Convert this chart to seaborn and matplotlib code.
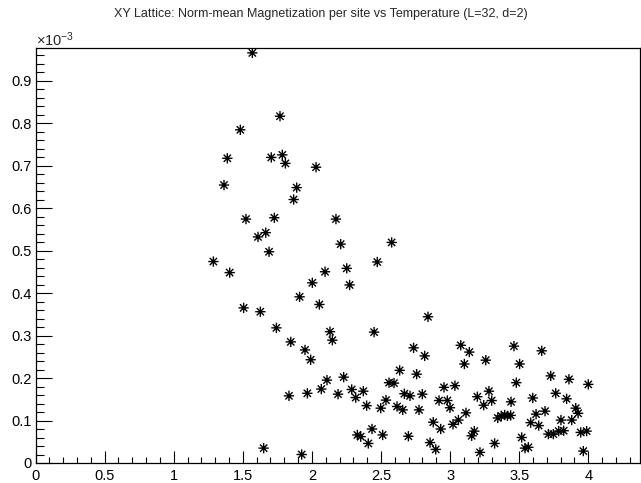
import matplotlib
matplotlib.use("Agg")
import matplotlib.pyplot as plt
from matplotlib.path import Path
from matplotlib.ticker import MultipleLocator, FuncFormatter
import pandas as pd
import seaborn as sns

# Temperature values (x) and norm-mean magnetization per site (y, in units of 1e-3)
temperature = [
    1.569, 1.769, 1.482, 1.388, 1.706, 1.786, 1.808, 2.030, 1.364, 1.890, 1.868, 1.523, 1.728, 2.174,
    1.610, 1.666, 1.690, 1.287, 1.405, 2.208, 2.252, 2.273, 2.095, 2.003, 1.911, 2.054, 1.506, 1.627,
    1.743, 2.131, 2.148, 1.847, 1.950, 1.991, 2.450, 2.473, 2.109, 2.230, 1.834, 1.967, 2.068, 2.189,
    2.288, 2.317, 2.372, 2.396, 2.435, 2.329, 2.353, 2.408, 1.651, 1.926,
    2.577, 2.840, 2.736, 2.816, 3.077, 3.139, 3.103, 3.258, 2.635, 2.758, 2.558, 2.594, 2.956, 3.035,
    2.669, 2.710, 2.799, 2.536, 2.498, 2.616, 2.657, 2.775, 2.920, 2.980, 2.999, 3.197, 3.281, 3.243,
    3.301, 3.115, 3.060, 3.021, 2.878, 2.932, 2.512, 2.698, 2.855, 2.896, 3.175, 3.156, 3.216, 3.322,
    3.345, 3.370, 3.395, 3.415, 3.438,
    3.462, 3.663, 3.503, 3.728, 3.860, 4.000, 3.479, 3.764, 3.598, 3.843, 3.441, 3.909, 3.926, 3.687,
    3.622, 3.802, 3.880, 3.583, 3.641, 3.711, 3.747, 3.786, 3.822, 3.945, 3.988, 3.518, 3.542, 3.566,
    3.964,
]
magnetization_e3 = [
    0.965, 0.816, 0.784, 0.717, 0.719, 0.725, 0.705, 0.696, 0.654, 0.648, 0.620, 0.574, 0.577, 0.574,
    0.532, 0.542, 0.497, 0.474, 0.448, 0.515, 0.458, 0.419, 0.450, 0.424, 0.391, 0.373, 0.365, 0.356,
    0.318, 0.309, 0.289, 0.285, 0.266, 0.243, 0.308, 0.473, 0.195, 0.202, 0.158, 0.164, 0.174, 0.162,
    0.173, 0.154, 0.169, 0.135, 0.080, 0.066, 0.062, 0.046, 0.035, 0.020,
    0.519, 0.344, 0.271, 0.252, 0.277, 0.261, 0.233, 0.242, 0.218, 0.209, 0.189, 0.188, 0.178, 0.182,
    0.163, 0.158, 0.162, 0.148, 0.129, 0.133, 0.125, 0.125, 0.147, 0.147, 0.130, 0.156, 0.169, 0.136,
    0.147, 0.118, 0.101, 0.091, 0.096, 0.080, 0.066, 0.063, 0.048, 0.032, 0.075, 0.064, 0.025, 0.046,
    0.106, 0.111, 0.113, 0.111, 0.112,
    0.275, 0.264, 0.233, 0.205, 0.197, 0.185, 0.189, 0.164, 0.153, 0.151, 0.144, 0.129, 0.117, 0.122,
    0.115, 0.101, 0.101, 0.095, 0.088, 0.068, 0.068, 0.075, 0.076, 0.072, 0.075, 0.060, 0.035, 0.037,
    0.028,
]
title = "XY Lattice: Norm-mean Magnetization per site vs Temperature (L=32, d=2)"

df = pd.DataFrame({"T": temperature, "M": magnetization_e3})

sns.set_theme(style="white")
plt.rcParams['font.family'] = ['Liberation Sans', 'DejaVu Sans']
plt.rcParams['mathtext.fontset'] = 'custom'
plt.rcParams['mathtext.rm'] = 'Liberation Sans'
plt.rcParams['mathtext.it'] = 'Liberation Sans:italic'
plt.rcParams['mathtext.default'] = 'regular'

W, H = 641, 483
fig = plt.figure(figsize=(W / 100, H / 100), dpi=100)
left, right, top, bottom = 35.5, 640, 48, 463
ax = fig.add_axes([left / W, (H - bottom) / H, (right - left) / W, (bottom - top) / H])

d = 0.7071
star = Path([(-1, 0), (1, 0), (0, -1), (0, 1), (-d, -d), (d, d), (-d, d), (d, -d)],
            [Path.MOVETO, Path.LINETO] * 4)

sns.scatterplot(data=df, x="T", y="M", marker=star, s=55, color="black",
                facecolor="none", edgecolor="black", linewidth=1.0, ax=ax, legend=False)

ax.set_xlim(0, 4.374)
ax.set_ylim(0, 0.9765)
ax.set_xlabel("")
ax.set_ylabel("")

ax.xaxis.set_major_locator(MultipleLocator(0.5))
ax.xaxis.set_minor_locator(MultipleLocator(0.1))
ax.yaxis.set_major_locator(MultipleLocator(0.1))
ax.yaxis.set_minor_locator(MultipleLocator(0.02))
fmt = FuncFormatter(lambda v, p: "%g" % round(v, 6))
ax.xaxis.set_major_formatter(fmt)
ax.yaxis.set_major_formatter(fmt)

ax.tick_params(axis='x', which='major', direction='in', length=8.6, width=0.8,
               labelsize=10.5, pad=4, bottom=True, top=False, colors='black')
ax.tick_params(axis='x', which='minor', direction='in', length=4.6, width=0.8,
               bottom=True, top=False, colors='black')
ax.tick_params(axis='y', which='major', direction='in', length=11.5, width=0.8,
               labelsize=10.5, pad=3, left=True, right=False, colors='black')
ax.tick_params(axis='y', which='minor', direction='in', length=5.8, width=0.8,
               left=True, right=False, colors='black')

for sp in ax.spines.values():
    sp.set_color('black')
    sp.set_linewidth(0.9)

fig.text(left / W, 1 - 46 / H, r"$\times10^{-3}$", ha='left', va='baseline', fontsize=10.5)
fig.text(0.5, 1 - 13.5 / H, title, ha='center', va='center', fontsize=9.0)

fig.savefig("out.png", dpi=100)
